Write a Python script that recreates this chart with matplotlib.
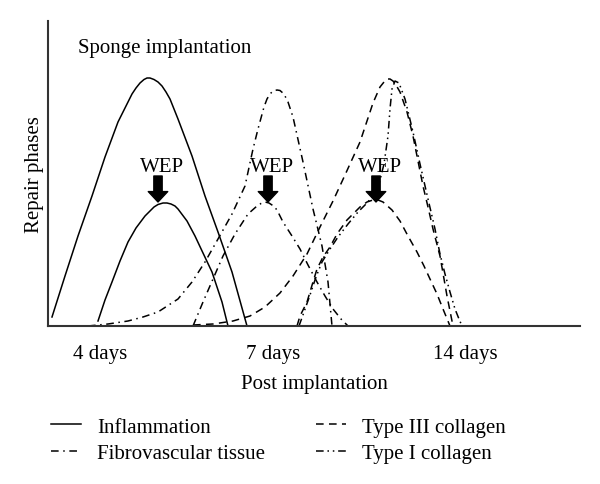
import matplotlib
matplotlib.use("Agg")
import matplotlib.pyplot as plt
from matplotlib.lines import Line2D

plt.rcParams['font.family'] = ['Liberation Serif', 'DejaVu Serif']
plt.rcParams['font.size'] = 15

# relative time (x) and relative phase level (y)
inflam_big_x = [4, 17, 30, 44, 57, 70, 84, 88, 92, 96, 99, 102, 106, 110, 114, 118, 122, 130, 144, 157, 170, 184, 199]
inflam_big_y = [9, 50, 90, 130, 169, 204, 232, 238, 243, 246.5, 248, 248, 246.5, 244, 240, 234, 227, 207, 170, 130, 94, 54, 0]
inflam_small_x = [50, 57, 64, 72, 80, 88, 97, 102, 106, 110, 115, 119, 123, 127, 130, 139, 147, 155, 164, 174, 180]
inflam_small_y = [5, 26, 44, 65, 84, 98, 110, 115, 119, 121.5, 123, 123, 122, 120, 117, 105, 90, 73, 54, 24, 0]

fibro_big_x = [40, 60, 80, 95, 110, 130, 144, 157, 170, 184, 197, 205, 210, 216, 219, 222, 225, 229, 232, 236, 240, 245,
               255, 265, 274, 280, 284]
fibro_big_y = [0, 2, 5, 9, 14, 27, 44, 64, 87, 112, 140, 177, 197, 219, 227, 232, 235, 236, 235.5, 232, 224, 209,
               164, 117, 80, 44, 0]
fibro_small_x = [145, 155, 165, 175, 187, 200, 209, 213, 217, 221, 227, 231, 235, 244, 252, 260, 269, 277, 285, 293, 300]
fibro_small_y = [0, 24, 47, 70, 92, 112, 120, 122.5, 124, 123, 119, 112, 104, 90, 77, 61, 44, 30, 17, 7, 0]

col3_big_x = [145, 165, 185, 202, 217, 232, 245, 259, 272, 285, 297, 312, 325, 332, 336, 339, 342, 345, 348, 352, 359,
              365, 370, 375, 380, 385, 392, 399, 405]
col3_big_y = [1, 2, 5, 10, 19, 33, 50, 72, 99, 125, 151, 184, 223, 239, 244, 247, 247, 245, 241, 234, 214,
              190, 165, 140, 119, 97, 70, 30, 0]
col3_small_x = [249, 252, 259, 265, 269, 275, 282, 289, 299, 312, 319, 325, 330, 335, 344, 352, 360, 369, 376, 382, 389, 395, 402]
col3_small_y = [0, 10, 24, 44, 57, 69, 79, 92, 106, 119, 124, 126, 126, 124, 116, 105, 90, 74, 60, 47, 32, 17, 0]

col1_x = [251, 256, 262, 268, 274, 282, 290, 300, 310, 318, 325, 331, 336, 340, 342, 344, 347, 351, 357, 365, 372, 380,
          387, 392, 397, 402, 407, 411, 414]
col1_y = [0, 14, 31, 49, 64, 77, 89, 102, 114, 122, 130, 142, 162, 190, 217, 237, 245, 243, 227, 194, 162, 127,
          97, 72, 52, 34, 17, 7, 0]

tick_pos = [52, 225, 417]
tick_labels = ['4 days', '7 days', '14 days']
wep_x = [110, 220, 328]

series_names = ['Inflammation', 'Fibrovascular tissue', 'Type III collagen', 'Type I collagen']
styles = ['-', (0, (5, 3, 1, 3)), (0, (5, 3.5)), (0, (5, 2.5, 1, 2.5, 1, 2.5))]

fig = plt.figure(figsize=(6, 4.85), dpi=100)
ax = fig.add_axes([48 / 600, 1 - 327 / 485, 532 / 600, 305 / 485])

lw = 1.1
ax.plot(inflam_big_x, inflam_big_y, color='black', lw=lw, ls=styles[0])
ax.plot(inflam_small_x, inflam_small_y, color='black', lw=lw, ls=styles[0])
ax.plot(fibro_big_x, fibro_big_y, color='black', lw=lw, ls=styles[1])
ax.plot(fibro_small_x, fibro_small_y, color='black', lw=lw, ls=styles[1])
ax.plot(col3_big_x, col3_big_y, color='black', lw=lw, ls=styles[2])
ax.plot(col3_small_x, col3_small_y, color='black', lw=lw, ls=styles[2])
ax.plot(col1_x, col1_y, color='black', lw=lw, ls=styles[3])

# WEP markers
for x in wep_x:
    ax.annotate('', xy=(x, 124), xytext=(x, 150),
                arrowprops=dict(arrowstyle='simple,head_length=0.75,head_width=1.4,tail_width=0.6',
                                mutation_scale=10, color='black', shrinkA=0, shrinkB=0))
    ax.text(x + 4, 155, 'WEP', ha='center', va='baseline')

ax.text(30, 278, 'Sponge implantation', ha='left', va='center')

ax.set_xlim(0, 532)
ax.set_ylim(0, 305)
ax.set_xticks(tick_pos)
ax.set_xticklabels(tick_labels)
ax.set_yticks([])
ax.tick_params(axis='x', length=0, pad=13)
ax.set_xlabel('Post implantation', labelpad=8)
ax.set_ylabel('Repair phases', labelpad=3)
for side in ['top', 'right']:
    ax.spines[side].set_visible(False)
for side in ['left', 'bottom']:
    ax.spines[side].set_color('#333333')
    ax.spines[side].set_linewidth(1.5)

handles = [Line2D([], [], color='black', lw=lw, ls=s) for s in styles]
fig.legend(handles, series_names, ncol=2, frameon=False, loc='upper left',
           bbox_to_anchor=(51 / 600, 1 - 418 / 485), borderpad=0, borderaxespad=0,
           handlelength=1.45, handletextpad=0.75, columnspacing=2.45, labelspacing=0.35)

fig.savefig('out.png', dpi=100)
